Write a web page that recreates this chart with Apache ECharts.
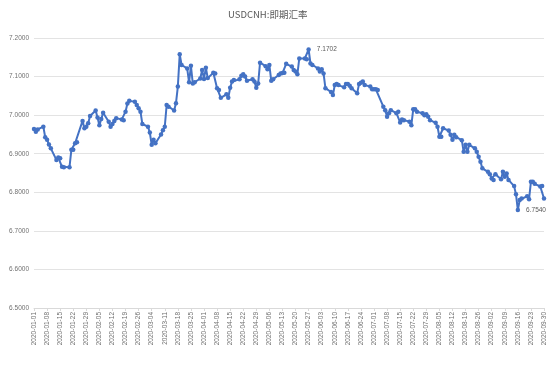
<!DOCTYPE html>
<html><head><meta charset="utf-8">
<script src="https://cdn.jsdelivr.net/npm/echarts@6/dist/echarts.min.js"></script>
<style>html,body{margin:0;padding:0;background:#fff}#c{width:550px;height:367px}</style>
</head><body><div id="c"></div>
<script>
const chartTitle = 'USDCNH:即期汇率';
const year = '2020';
const dates = [
  '01-01','01-02','01-03','01-06','01-07','01-08','01-09','01-10','01-13','01-14','01-15','01-16','01-17','01-20','01-21','01-22','01-23','01-24','01-27','01-28','01-29','01-30','01-31',
  '02-03','02-04','02-05','02-06','02-07','02-10','02-11','02-12','02-13','02-14','02-17','02-18','02-19','02-20','02-21','02-24','02-25','02-26','02-27','02-28',
  '03-02','03-03','03-04','03-05','03-06','03-09','03-10','03-11','03-12','03-13','03-16','03-17','03-18','03-19','03-20','03-23','03-24','03-25','03-26','03-27','03-30','03-31',
  '04-01','04-02','04-03','04-06','04-07','04-08','04-09','04-10','04-13','04-14','04-15','04-16','04-17','04-20','04-21','04-22','04-23','04-24','04-27','04-28','04-29','04-30',
  '05-01','05-04','05-05','05-06','05-07','05-08','05-11','05-12','05-13','05-14','05-15','05-18','05-19','05-20','05-21','05-22','05-25','05-26','05-27','05-28','05-29',
  '06-01','06-02','06-03','06-04','06-05','06-08','06-09','06-10','06-11','06-12','06-15','06-16','06-17','06-18','06-19','06-22','06-23','06-24','06-25','06-26','06-29','06-30',
  '07-01','07-02','07-03','07-06','07-07','07-08','07-09','07-10','07-13','07-14','07-15','07-16','07-17','07-20','07-21','07-22','07-23','07-24','07-27','07-28','07-29','07-30','07-31',
  '08-03','08-04','08-05','08-06','08-07','08-10','08-11','08-12','08-13','08-14','08-17','08-18','08-19','08-20','08-21','08-24','08-25','08-26','08-27','08-28','08-31',
  '09-01','09-02','09-03','09-04','09-07','09-08','09-09','09-10','09-11','09-14','09-15','09-16','09-17','09-18','09-21','09-22','09-23','09-24','09-25','09-28','09-29','09-30'
];
const values = [
  6.964,6.957,6.963,6.970,6.943,6.936,6.924,6.914,6.884,6.890,6.888,6.866,6.865,6.865,6.910,6.910,6.927,6.930,6.985,6.966,6.970,6.979,6.998,
  7.012,6.994,6.974,6.990,7.006,6.983,6.970,6.977,6.985,6.992,6.989,6.987,7.009,7.030,7.037,7.035,7.026,7.018,7.009,6.977,
  6.970,6.955,6.923,6.936,6.927,6.950,6.961,6.970,7.026,7.022,7.012,7.031,7.074,7.158,7.130,7.121,7.085,7.128,7.082,7.085,7.095,7.117,
  7.094,7.123,7.096,7.110,7.108,7.070,7.065,7.045,7.054,7.045,7.071,7.087,7.091,7.093,7.102,7.106,7.100,7.089,7.093,7.087,7.071,7.082,
  7.136,7.127,7.119,7.130,7.089,7.093,7.104,7.108,7.109,7.110,7.133,7.126,7.117,7.113,7.106,7.147,7.147,7.145,7.1702,7.134,7.130,
  7.121,7.113,7.119,7.108,7.070,7.060,7.052,7.078,7.081,7.078,7.072,7.081,7.081,7.076,7.070,7.057,7.081,7.084,7.087,7.078,7.074,7.067,
  7.067,7.067,7.065,7.022,7.013,6.996,7.005,7.013,7.005,7.009,6.981,6.989,6.987,6.983,6.974,7.015,7.015,7.009,7.005,7.000,7.002,6.996,6.987,
  6.980,6.970,6.944,6.944,6.966,6.960,6.949,6.936,6.949,6.943,6.935,6.905,6.923,6.905,6.923,6.914,6.905,6.892,6.879,6.862,6.853,
  6.847,6.836,6.832,6.847,6.834,6.853,6.840,6.849,6.832,6.816,6.795,6.754,6.780,6.784,6.790,6.782,6.827,6.827,6.822,6.815,6.816,6.784
];
const xTickLabels = [
  '2020-01-01','2020-01-08','2020-01-15','2020-01-22','2020-01-29','2020-02-05','2020-02-12','2020-02-19','2020-02-26','2020-03-04',
  '2020-03-11','2020-03-18','2020-03-25','2020-04-01','2020-04-08','2020-04-15','2020-04-22','2020-04-29','2020-05-06','2020-05-13',
  '2020-05-20','2020-05-27','2020-06-03','2020-06-10','2020-06-17','2020-06-24','2020-07-01','2020-07-08','2020-07-15','2020-07-22',
  '2020-07-29','2020-08-05','2020-08-12','2020-08-19','2020-08-26','2020-09-02','2020-09-09','2020-09-16','2020-09-23','2020-09-30'
];

const origin = Date.parse(year + '-01-01T00:00:00Z');
const lastDay = Math.round((Date.parse(xTickLabels[xTickLabels.length - 1] + 'T00:00:00Z') - origin) / 86400000);
const dayOf = d => Math.round((Date.parse(year + '-' + d + 'T00:00:00Z') - origin) / 86400000);
let iMax = 0, iMin = 0;
values.forEach((v, i) => { if (v > values[iMax]) iMax = i; if (v < values[iMin]) iMin = i; });
const seriesData = dates.map((d, i) => {
  const item = { value: [dayOf(d), values[i]] };
  if (i === iMax || i === iMin) {
    item.label = { show: true, position: 'right', distance: 6, formatter: values[i].toFixed(4), fontSize: 6.5, color: '#595959' };
  }
  return item;
});

const chart = echarts.init(document.getElementById('c'));
chart.setOption({
  animation: false,
  backgroundColor: '#fff',
  title: {
    text: chartTitle, left: 223, top: 5,
    textStyle: { fontSize: 9.5, fontWeight: 'normal', color: '#595959', fontFamily: 'Noto Sans CJK SC' }
  },
  grid: { left: 34, right: 6, top: 38, bottom: 59, containLabel: false },
  xAxis: {
    type: 'value', min: 0, max: lastDay, interval: 7,
    axisLine: { show: true, lineStyle: { color: '#d9d9d9' } },
    axisTick: { show: true, length: 3, lineStyle: { color: '#d9d9d9' } },
    splitLine: { show: false },
    axisLabel: {
      rotate: 90, fontSize: 6.5, color: '#707070', margin: 4, fontFamily: 'Liberation Sans',
      formatter: v => xTickLabels[Math.round(v / 7)] || ''
    }
  },
  yAxis: {
    type: 'value', min: 6.5, max: 7.2, interval: 0.1,
    axisLine: { show: false }, axisTick: { show: false },
    splitLine: { lineStyle: { color: '#e3e3e3', width: 1 } },
    axisLabel: { fontSize: 6.5, color: '#707070', margin: 5, fontFamily: 'Liberation Sans', formatter: v => v.toFixed(4) }
  },
  series: [{
    type: 'line', data: seriesData,
    symbol: 'circle', symbolSize: 4.5,
    lineStyle: { color: '#4472C4', width: 2 },
    itemStyle: { color: '#4472C4' },
    label: { fontFamily: 'Liberation Sans' }
  }]
});
</script></body></html>
